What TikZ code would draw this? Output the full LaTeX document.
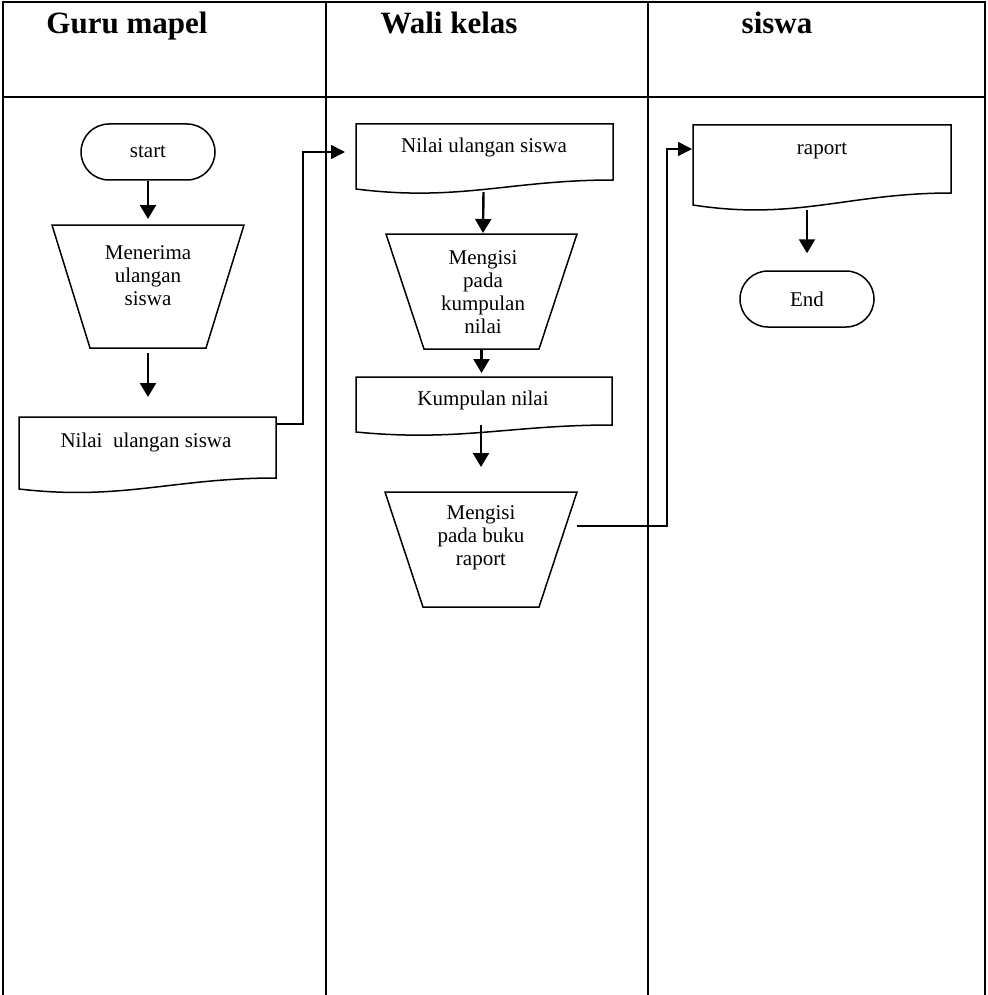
\documentclass[tikz,border=0pt]{standalone}
\usepackage{fontspec}
\setmainfont{Liberation Serif}
\usetikzlibrary{arrows.meta,shapes.misc,calc}
\begin{document}
\begin{tikzpicture}[x=1pt,y=-1pt,
  frame/.style={line width=2.2pt},
  outline/.style={line width=1.5pt, line join=miter},
  area/.style={inner sep=0pt, outer sep=0pt, draw=none},
  lbl/.style={font=\fontsize{21}{23}\selectfont, align=center, inner sep=0pt},
  head/.style={font=\fontsize{31}{34}\selectfont\bfseries, anchor=base, inner sep=0pt},
  term/.style={rounded rectangle, draw, line width=1.5pt, minimum width=134pt, minimum height=56pt, inner sep=0pt, font=\fontsize{21}{23}\selectfont},
  flow/.style={line width=2.4pt, -{Triangle[length=14pt,width=16pt]}},
  link/.style={line width=1.6pt, -{Triangle[length=14pt,width=14pt]}}]
\useasboundingbox (0,0) rectangle (987,995);

% swimlane frame
\draw[frame] (3,995) -- (3,2) -- (985,2) -- (985,995);
\draw[frame] (3,97) -- (985,97);
\draw[frame] (326,2) -- (326,995);
\draw[frame] (648,2) -- (648,995);

% headers
\node[head] (h1) at (127,34) {Guru mapel};
\node[head] (h2) at (449,34) {Wali kelas};
\node[head] (h3) at (777,34) {siswa};

% column 1
\node[term] (start) at (148,152) {start};

\node[area, minimum width=192pt, minimum height=123pt] (t1) at (148,286.5) {};
\draw[outline] (t1.north west) -- (t1.north east) -- ($(t1.south east)+(-38,0)$) -- ($(t1.south west)+(38,0)$) -- cycle;
\node[lbl] (t1txt) at (148,276) {Menerima\\ulangan\\siswa};

\node[area, minimum width=257pt, minimum height=61pt] (d1) at (147.5,447.5) {};
\draw[outline] (d1.north west) -- (d1.north east) -- (d1.south east) .. controls +(-103,0) and +(103,12) .. ($(d1.south west)+(0,11)$) -- cycle;
\node[lbl] (d1txt) at (146,442) {Nilai\ \ ulangan siswa};

% column 2
\node[area, minimum width=257pt, minimum height=56pt] (d2) at (484.5,152) {};
\draw[outline] (d2.north west) -- (d2.north east) -- (d2.south east) .. controls +(-103,0) and +(103,13) .. ($(d2.south west)+(0,9)$) -- cycle;
\node[lbl] (d2txt) at (484,147) {Nilai ulangan siswa};

\node[area, minimum width=191pt, minimum height=115pt] (t2) at (481.5,291.5) {};
\draw[outline] (t2.north west) -- (t2.north east) -- ($(t2.south east)+(-38,0)$) -- ($(t2.south west)+(38,0)$) -- cycle;
\node[lbl] (t2txt) at (483,292) {Mengisi\\pada\\kumpulan\\nilai};

\node[area, minimum width=256pt, minimum height=48pt] (d3) at (484,401) {};
\draw[outline] (d3.north west) -- (d3.north east) -- (d3.south east) .. controls +(-102,0) and +(102,10) .. ($(d3.south west)+(0,7)$) -- cycle;
\node[lbl] (d3txt) at (483,400) {Kumpulan nilai};

\node[area, minimum width=192pt, minimum height=115pt] (t3) at (481,549.5) {};
\draw[outline] (t3.north west) -- (t3.north east) -- ($(t3.south east)+(-38,0)$) -- ($(t3.south west)+(38,0)$) -- cycle;
\node[lbl] (t3txt) at (481,538) {Mengisi\\pada buku\\raport};

% column 3
\node[area, minimum width=258pt, minimum height=68pt] (d4) at (822,159) {};
\draw[outline] (d4.north west) -- (d4.north east) -- (d4.south east) .. controls +(-103,0) and +(103,16) .. ($(d4.south west)+(0,12)$) -- cycle;
\node[lbl] (d4txt) at (822,151) {raport};

\node[term] (end) at (807,299) {End};

% flow arrows
\draw[flow, shorten >=6pt] (start.south) -- (start.south |- t1.north);
\draw[flow, shorten <=5pt, shorten >=20pt] (t1.south) -- (t1.south |- d1.north);
\draw[flow] ($(d2.south)+(-1,12)$) -- ($(t2.north)+(1.5,-1)$);
\draw[flow, shorten >=4pt] (t2.south) -- (t2.south |- d3.north);
\draw[flow, shorten >=25pt] (d3.south -| t3.north) -- (t3.north);
\draw[flow, shorten >=17pt] ($(d4.south -| end.north)+(0,17)$) -- (end.north);

% cross-lane connectors
\draw[link, shorten >=11pt] ($(d1.north east)+(0,7)$) -- ++(27,0) |- (d2.west);
\draw[link, shorten >=1pt] ($(t3.north east)+(0,34)$) -- ++(90,0) |- ($(d4.north west)+(0,24)$);
\end{tikzpicture}
\end{document}
